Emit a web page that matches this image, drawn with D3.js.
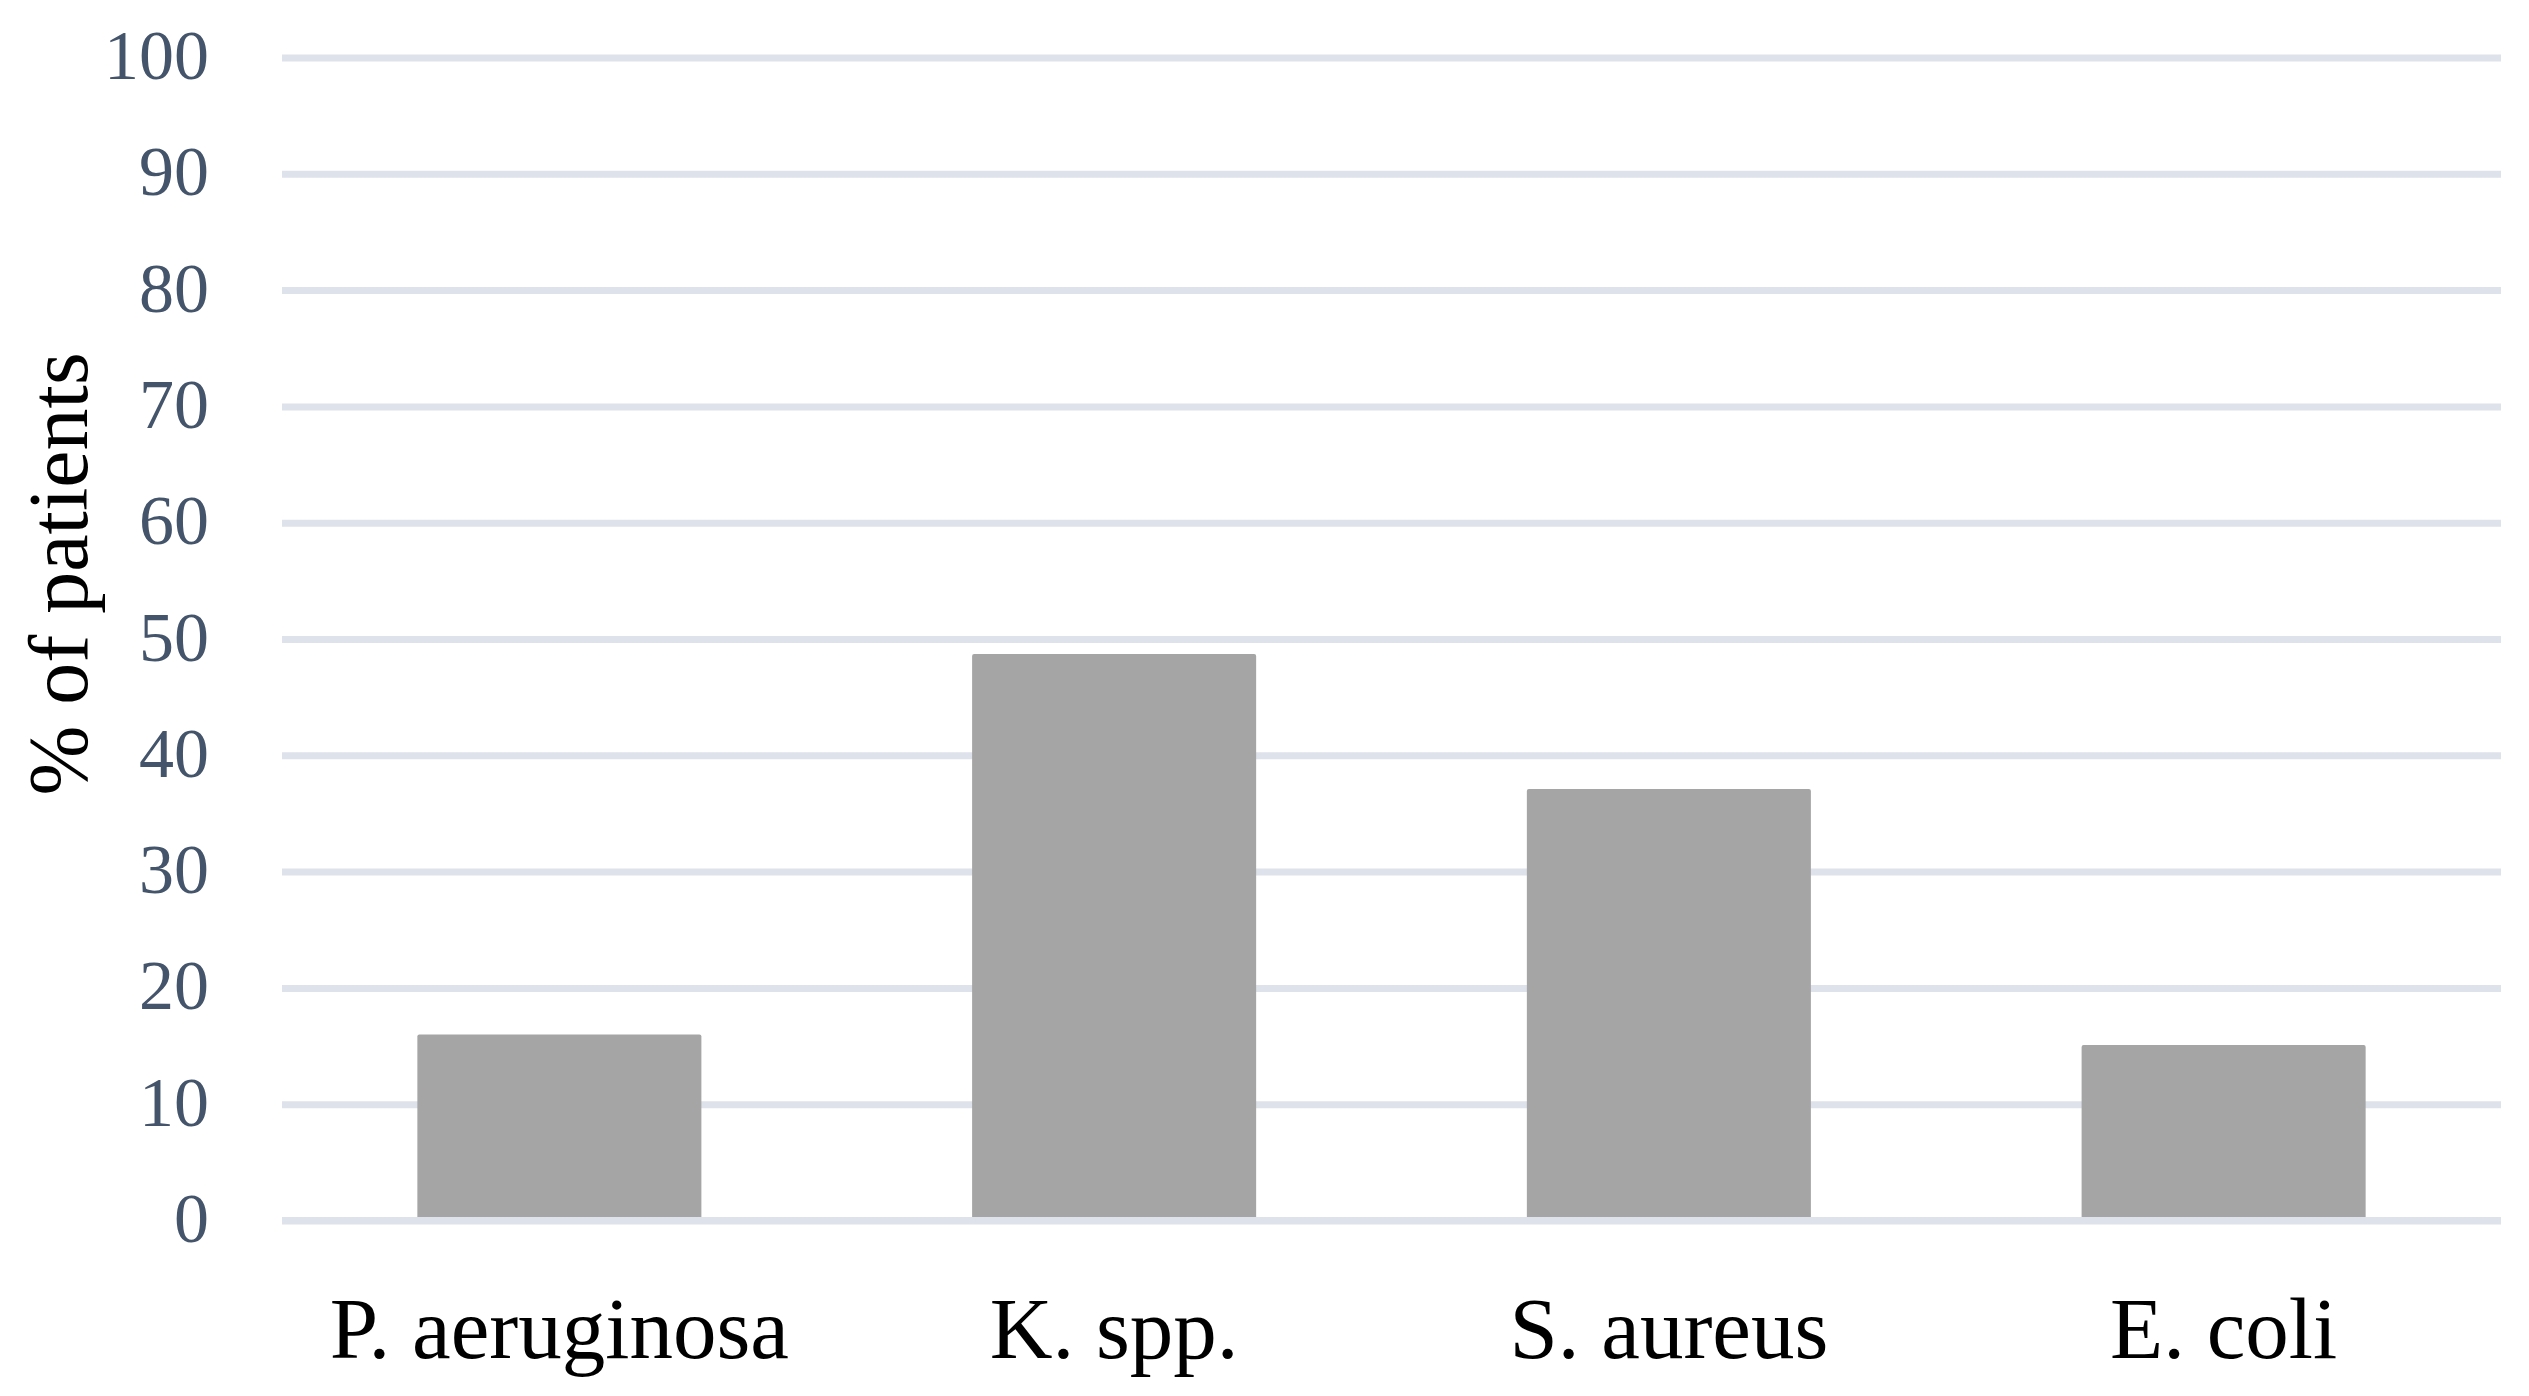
<!DOCTYPE html>
<html>
<head>
<meta charset="utf-8">
<script src="https://cdn.jsdelivr.net/npm/d3@7"></script>
<style>
  html, body { margin: 0; padding: 0; background: #ffffff; }
  svg { display: block; }
</style>
</head>
<body>
<svg id="chart" width="2529" height="1396"></svg>
<script>
const categories = ["P. aeruginosa", "K. spp.", "S. aureus", "E. coli"];
const values = [16, 48.7, 37.1, 15.1];
const yTicks = [0, 10, 20, 30, 40, 50, 60, 70, 80, 90, 100];
const yTitle = "% of patients";

(function () {
const plotLeft = 282, plotRight = 2501, plotTop = 57.5, plotBottom = 1220.5;
const gridColor = "#dee2ea";
const font = "'Liberation Serif', 'Times New Roman', serif";

const svg = d3.select("#chart");

const x = d3.scaleBand().domain(categories).range([plotLeft, plotRight])
  .paddingInner(0.488).paddingOuter(0.244);
const y = d3.scaleLinear().domain([0, 100]).range([plotBottom, plotTop]);

// gridlines + y tick labels
const yAxis = d3.axisLeft(y).tickValues(yTicks).tickSize(-(plotRight - plotLeft)).tickPadding(73);
const gy = svg.append("g").attr("transform", `translate(${plotLeft},0)`).call(yAxis);
gy.select(".domain").remove();
gy.selectAll(".tick line").attr("stroke", gridColor).attr("stroke-width", 7);
gy.selectAll(".tick text")
  .attr("font-family", font).attr("font-size", 70).attr("fill", "#44546a")
  .attr("dy", null).attr("y", 21);

// bars
svg.append("g").selectAll("rect").data(values).join("rect")
  .attr("x", (d, i) => x(categories[i]))
  .attr("width", x.bandwidth())
  .attr("y", d => y(d))
  .attr("height", d => y(0) - y(d))
  .attr("rx", 2)
  .attr("fill", "#a5a5a5");

// zero line on top
svg.append("line")
  .attr("x1", plotLeft).attr("x2", plotRight)
  .attr("y1", y(0)).attr("y2", y(0))
  .attr("stroke", gridColor).attr("stroke-width", 7);

// x labels
svg.append("g").selectAll("text").data(categories).join("text")
  .attr("x", d => x(d) + x.bandwidth() / 2)
  .attr("y", 1358)
  .attr("text-anchor", "middle")
  .attr("font-family", font).attr("font-size", 87).attr("fill", "#000000")
  .text(d => d);

// y title
svg.append("text")
  .attr("transform", `translate(87,574) rotate(-90)`)
  .attr("text-anchor", "middle")
  .attr("font-family", font).attr("font-size", 84).attr("fill", "#000000")
  .text(yTitle);
})();
</script>
</body>
</html>
